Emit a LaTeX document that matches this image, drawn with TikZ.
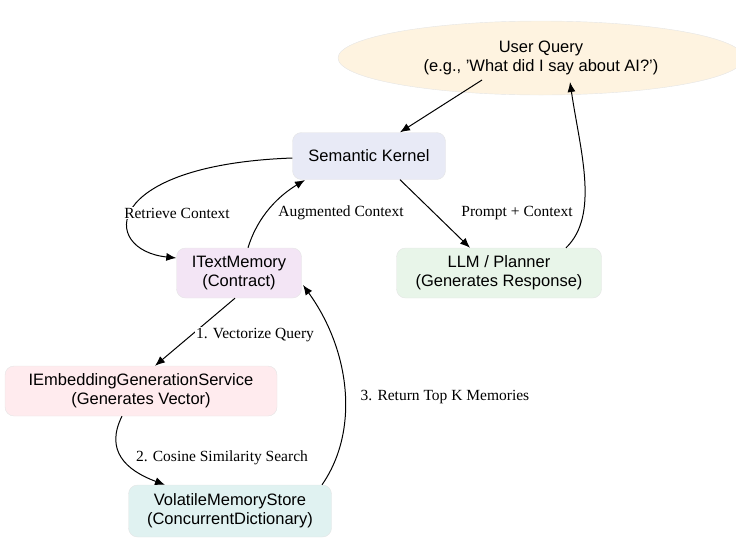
\documentclass[tikz,border=0pt]{standalone}
\usepackage{fontspec}
\setmainfont{Liberation Sans}
\newfontfamily\lbl{Liberation Serif}
\usetikzlibrary{shapes.geometric,arrows.meta}
\definecolor{cq}{HTML}{FEF3E0}
\definecolor{csk}{HTML}{E8EAF6}
\definecolor{ctm}{HTML}{F3E5F5}
\definecolor{cllm}{HTML}{E8F5E9}
\definecolor{ceg}{HTML}{FFEBEE}
\definecolor{cvm}{HTML}{E0F2F1}
\tikzset{
 box/.style={draw=black!10,rounded corners=9pt,align=center,font=\fontsize{16.5}{19}\selectfont,inner sep=0pt},
 edge/.style={-{Latex[length=10pt,width=8pt]},line width=1pt},
 lab/.style={font=\lbl\fontsize{15.5}{17}\selectfont,fill=white,inner sep=1pt}
}
\begin{document}
\begin{tikzpicture}[x=1pt,y=-1pt]
\useasboundingbox (0,0) rectangle (736,550);
\node[ellipse,draw=black!10,fill=cq,minimum width=406pt,minimum height=74pt,align=center,font=\fontsize{16.5}{19}\selectfont] (q) at (541,58) {User Query\\(e.g., 'What did I say about AI?')};
\node[box,fill=csk,minimum width=153pt,minimum height=47pt] (sk) at (369,156) {Semantic Kernel};
\node[box,fill=ctm,minimum width=125pt,minimum height=50pt] (tm) at (239,273) {ITextMemory\\(Contract)};
\node[box,fill=cllm,minimum width=205pt,minimum height=50pt] (llm) at (499,273) {LLM / Planner\\(Generates Response)};
\node[box,fill=ceg,minimum width=272pt,minimum height=50pt] (eg) at (141,391) {IEmbeddingGenerationService\\(Generates Vector)};
\node[box,fill=cvm,minimum width=203pt,minimum height=52pt] (vm) at (230,511) {VolatileMemoryStore\\(ConcurrentDictionary)};
\draw[edge] (482,80) -- (sk.north -| 400,0);
\draw[edge] (llm.north -| 566,0) .. controls (600,215) and (580,150) .. (570,82);
\draw[edge] (sk.west) ++(0,2) .. controls (100,165) and (100,250) .. (tm.west |- 0,258);
\node[lab] at (177,213) {Retrieve Context};
\draw[edge] (tm.north -| 248,0) .. controls (258,215) and (280,195) .. (305,180);
\node[lab] at (341,213) {Augmented Context};
\draw[edge] (sk.south -| 400,0) -- (llm.north -| 470,0);
\node[lab] at (517,213) {Prompt + Context};
\draw[edge] (tm.south -| 235,0) -- (eg.north -| 155,0);
\node[lab] at (255,335) {1. Vectorize Query};
\draw[edge] (eg.south -| 122,0) .. controls (105,450) and (125,470) .. (vm.north -| 165,0);
\node[lab] at (222,458) {2. Cosine Similarity Search};
\draw[edge] (vm.north -| 322,0) .. controls (360,430) and (350,350) .. (303,285);
\node[lab,fill=none] at (445,397) {3. Return Top K Memories};
\end{tikzpicture}
\end{document}
